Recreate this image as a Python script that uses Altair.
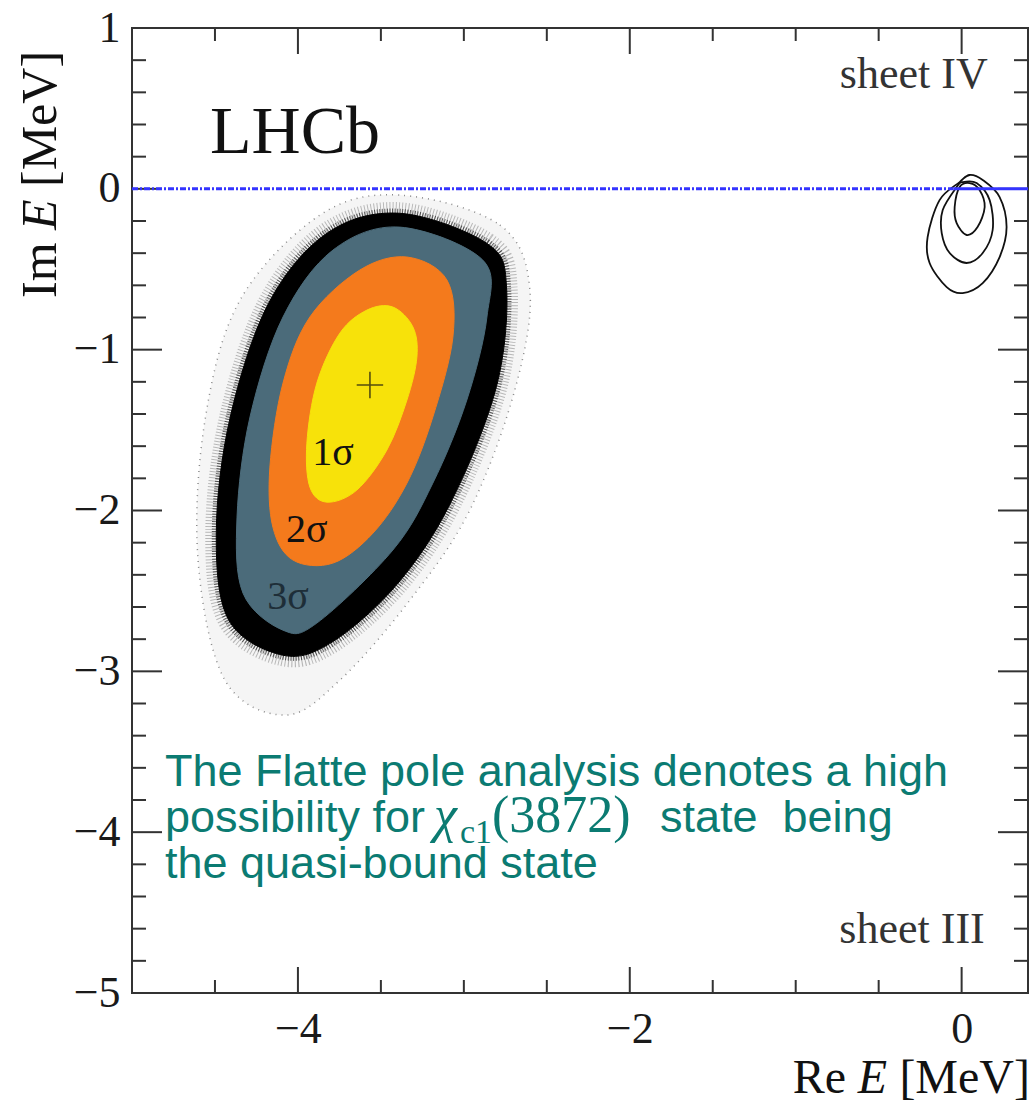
import altair as alt
import pandas as pd

# ---- pole-position scatter envelopes (Re E, Im E) in MeV ----
halo_re = [-3.386, -2.783, -2.602, -2.693, -2.964, -3.325, -3.747, -4.078, -4.440, -4.602, -4.560, -4.349, -3.867]
halo_im = [-0.039, -0.225, -0.629, -1.251, -1.998, -2.557, -3.055, -3.272, -3.055, -2.308, -1.438, -0.692, -0.163]

dense_re = [-3.386, -2.863, -2.743, -2.803, -3.076, -3.396, -3.789, -4.090, -4.418, -4.492, -4.408, -4.177, -3.825]
dense_im = [-0.152, -0.338, -0.606, -1.228, -1.945, -2.451, -2.815, -2.900, -2.680, -2.131, -1.419, -0.712, -0.276]

# ---- confidence regions ----
s3_re = [-3.386, -2.886, -2.861, -2.982, -3.187, -3.428, -3.886, -4.090, -4.331, -4.367, -4.289, -4.090, -3.789]
s3_im = [-0.238, -0.443, -0.797, -1.313, -1.830, -2.246, -2.700, -2.744, -2.514, -2.041, -1.419, -0.797, -0.381]

s2_re = [-3.343, -3.102, -3.066, -3.187, -3.343, -3.548, -3.789, -4.030, -4.151, -4.169, -4.090, -3.928, -3.627]
s2_im = [-0.424, -0.567, -0.922, -1.419, -1.830, -2.141, -2.327, -2.308, -2.103, -1.730, -1.208, -0.797, -0.505]

s1_re = [-3.428, -3.307, -3.283, -3.343, -3.464, -3.645, -3.825, -3.928, -3.946, -3.886, -3.747, -3.584]
s1_im = [-0.735, -0.859, -1.046, -1.313, -1.624, -1.873, -1.948, -1.854, -1.581, -1.208, -0.897, -0.754]

best_re = [-3.566]
best_im = [-1.22]

# ---- sheet IV contours near threshold ----
c_out_re = [-0.012, -0.133, -0.205, -0.193, -0.090, 0.006, 0.127, 0.229, 0.271, 0.229, 0.127, 0.048]
c_out_im = [0.042, -0.070, -0.300, -0.461, -0.611, -0.648, -0.586, -0.424, -0.238, -0.051, 0.055, 0.086]
c_mid_re = [-0.030, -0.114, -0.120, -0.072, 0.030, 0.127, 0.187, 0.169, 0.090, 0.006]
c_mid_im = [0.011, -0.132, -0.275, -0.399, -0.461, -0.399, -0.256, -0.070, 0.036, 0.042]
c_in_re = [-0.012, -0.042, -0.030, 0.030, 0.096, 0.139, 0.108, 0.048]
c_in_im = [0.011, -0.113, -0.213, -0.287, -0.238, -0.113, -0.007, 0.036]

# ---- threshold line ----
thr_dash_re = [-5.0, -0.05]
thr_solid_re = [-0.05, 0.4]

# ---- axis ticks ----
x_major = [-4, -2, 0]
x_minor = [-4.5, -3.5, -3, -2.5, -1.5, -1, -0.5]
y_major = [-4, -3, -2, -1, 0]
y_minor = [round(-5 + 0.2 * i, 1) for i in range(31) if i % 5 != 0]

W, H = 896, 965
SERIF = "Liberation Serif"
SANS = "Liberation Sans"
TEAL = "#0b7b72"
FRAME = "#333333"
BLUE = "#3434ff"

xs = alt.Scale(domain=[-5, 0.4], nice=False, zero=False)
ys = alt.Scale(domain=[-5, 1], nice=False, zero=False)
xaxis = alt.Axis(values=x_major, ticks=False, domain=False, grid=False, title=None,
                 labelFont=SERIF, labelFontSize=44, labelColor="#1a1a1a", labelPadding=14,
                 labelFlush=False)
yaxis = alt.Axis(values=[-5, -4, -3, -2, -1, 0, 1], ticks=False, domain=False, grid=False, title=None,
                 labelFont=SERIF, labelFontSize=44, labelColor="#1a1a1a", labelPadding=12,
                 labelFlush=False)
X = alt.X("re:Q", scale=xs, axis=xaxis)
Y = alt.Y("im:Q", scale=ys, axis=yaxis)


def outline(re, im):
    return pd.DataFrame({"re": re, "im": im, "k": list(range(len(re)))})


def blob(re, im, color, **kw):
    return alt.Chart(outline(re, im)).mark_line(
        fill=color, stroke=color, interpolate="cardinal-closed", **kw
    ).encode(x=X, y=Y, order="k:Q")


def ring(re, im, **kw):
    return alt.Chart(outline(re, im)).mark_line(
        interpolate="cardinal-closed", **kw
    ).encode(x=X, y=Y, order="k:Q")


layers = []

# sparse outer scatter and dense black band
layers.append(blob(halo_re, halo_im, "#000000", opacity=0.04, strokeWidth=0))
layers.append(ring(halo_re, halo_im, stroke="#000", strokeWidth=1.5, strokeDash=[1, 5], opacity=0.45))
layers.append(ring(dense_re, dense_im, stroke="#000", strokeWidth=22, strokeDash=[1, 2], opacity=0.25))
layers.append(blob(dense_re, dense_im, "#000000", strokeWidth=1))
layers.append(ring(dense_re, dense_im, stroke="#000", strokeWidth=9, strokeDash=[1, 1.5], opacity=0.6))

# 3σ, 2σ, 1σ regions
layers.append(blob(s3_re, s3_im, "#4b6b7a", strokeWidth=1))
layers.append(blob(s2_re, s2_im, "#f47a1c", strokeWidth=1))
layers.append(blob(s1_re, s1_im, "#f7e20a", strokeWidth=1))

# best-fit marker
layers.append(alt.Chart(pd.DataFrame({"re": best_re, "im": best_im})).mark_point(
    shape="M-1,0L1,0M0,-1L0,1", size=700, stroke="#111", strokeWidth=1.6, filled=False
).encode(x=X, y=Y))

# sheet IV contours
layers.append(ring(c_out_re, c_out_im, stroke="#111", strokeWidth=1.8))
layers.append(ring(c_mid_re, c_mid_im, stroke="#111", strokeWidth=1.8))
layers.append(ring(c_in_re, c_in_im, stroke="#111", strokeWidth=1.8))

# inward ticks on all four sides
tick = dict(color=FRAME, strokeWidth=2)
xmaj = alt.Chart(pd.DataFrame({"re": x_major}))
xmin = alt.Chart(pd.DataFrame({"re": x_minor}))
ymaj = alt.Chart(pd.DataFrame({"im": y_major}))
ymin = alt.Chart(pd.DataFrame({"im": y_minor}))
layers += [
    xmaj.mark_rule(**tick).encode(x=X, y=alt.value(H), y2=alt.value(H - 26)),
    xmaj.mark_rule(**tick).encode(x=X, y=alt.value(0), y2=alt.value(26)),
    xmin.mark_rule(**tick).encode(x=X, y=alt.value(H), y2=alt.value(H - 13)),
    xmin.mark_rule(**tick).encode(x=X, y=alt.value(0), y2=alt.value(13)),
    ymaj.mark_rule(**tick).encode(y=Y, x=alt.value(0), x2=alt.value(30)),
    ymaj.mark_rule(**tick).encode(y=Y, x=alt.value(W), x2=alt.value(W - 30)),
    ymin.mark_rule(**tick).encode(y=Y, x=alt.value(0), x2=alt.value(14)),
    ymin.mark_rule(**tick).encode(y=Y, x=alt.value(W), x2=alt.value(W - 14)),
]

# threshold line Im E = 0 (drawn over the ticks)
layers.append(alt.Chart(pd.DataFrame({"re": thr_dash_re, "im": [0, 0]})).mark_line(
    color=BLUE, strokeWidth=3, strokeDash=[6, 2, 2, 2]
).encode(x=X, y=Y))
layers.append(alt.Chart(pd.DataFrame({"re": thr_solid_re, "im": [0, 0]})).mark_line(
    color=BLUE, strokeWidth=3
).encode(x=X, y=Y))


def label(re, im, txt, **kw):
    return alt.Chart(pd.DataFrame({"re": [re], "im": [im], "t": [txt]})).mark_text(**kw).encode(
        x=X, y=Y, text="t:N")


layers += [
    label(-4.53, 0.223, "LHCb", font=SERIF, fontSize=68, align="left", baseline="alphabetic", color="#111"),
    label(0.157, 0.627, "sheet IV", font=SERIF, fontSize=44, align="right", baseline="alphabetic", color="#333"),
    label(0.139, -4.690, "sheet III", font=SERIF, fontSize=44, align="right", baseline="alphabetic", color="#333"),
    label(-3.789, -1.643, "1σ", font=SERIF, fontSize=40, align="center", baseline="middle", color="#111"),
    label(-3.946, -2.122, "2σ", font=SERIF, fontSize=40, align="center", baseline="middle", color="#111"),
    label(-4.060, -2.539, "3σ", font=SERIF, fontSize=40, align="center", baseline="middle", color="#1e2e38"),
]


def note(px, py, txt, **kw):
    style = dict(font=SANS, fontSize=45, color=TEAL, align="left", baseline="alphabetic")
    style.update(kw)
    return alt.Chart(pd.DataFrame({"t": [txt]})).mark_text(**style).encode(
        x=alt.value(px), y=alt.value(py), text="t:N")


# annotation block
layers += [
    note(33, 758, "The Flatte pole analysis denotes a high"),
    note(33, 804, "possibility for"),
    note(302, 804, "χ", font=SERIF, fontSize=52, fontStyle="italic"),
    note(328, 815, "c1", font=SERIF, fontSize=34),
    note(360, 804, "(3872)", font=SERIF, fontSize=52),
    note(528, 804, "state\u00a0 being"),
    note(33, 850, "the quasi-bound state"),
]

# axis titles with italic E
layers += [
    note(W + 2, 1093 - 28, "[MeV]", font=SERIF, fontSize=48, color="#111", align="right"),
    note(W + 2 - 143, 1093 - 28, "E", font=SERIF, fontSize=48, color="#111", align="right", fontStyle="italic"),
    note(W + 2 - 184, 1093 - 28, "Re", font=SERIF, fontSize=48, color="#111", align="right"),
    note(56 - 132, 187 - 28, "[MeV]", font=SERIF, fontSize=50, color="#111", angle=270),
    note(56 - 132, 230 - 28, "E", font=SERIF, fontSize=50, color="#111", angle=270, fontStyle="italic"),
    note(56 - 132, 298 - 28, "Im", font=SERIF, fontSize=50, color="#111", angle=270),
]

chart = alt.layer(*layers).properties(
    width=W, height=H,
    padding={"left": 132, "top": 28, "right": 7, "bottom": 116},
    autosize=alt.AutoSizeParams(type="none"),
    background="white",
).configure_view(stroke=FRAME, strokeWidth=2)

chart.save("out.html", embed_options={"renderer": "svg", "actions": False})
